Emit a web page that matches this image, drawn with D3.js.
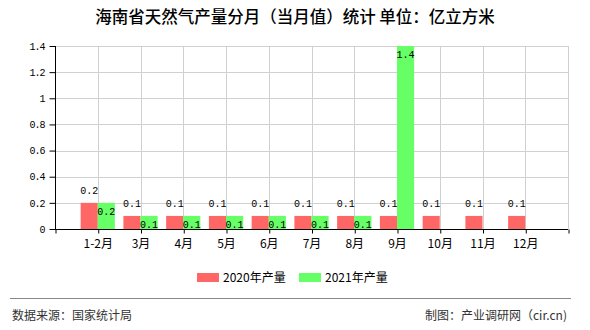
<!DOCTYPE html>
<html>
<head>
<meta charset="utf-8">
<script src="https://cdn.jsdelivr.net/npm/d3@7"></script>
<style>
  body { margin: 0; background: #fff; }
  svg { display: block; }
  .num { font-family: "Liberation Mono", "DejaVu Sans Mono", monospace; font-size: 10px; fill: #000; }
  .cjk { font-family: "Noto Sans CJK SC", "Noto Sans", sans-serif; }
</style>
</head>
<body>
<svg id="chart" width="590" height="330"></svg>
<script>
// data
var months = ["1-2月", "3月", "4月", "5月", "6月", "7月", "8月", "9月", "10月", "11月", "12月"];
var values2020 = [0.2, 0.1, 0.1, 0.1, 0.1, 0.1, 0.1, 0.1, 0.1, 0.1, 0.1];
var values2021 = [0.2, 0.1, 0.1, 0.1, 0.1, 0.1, 0.1, 1.4, null, null, null];
var yTicks = [0, 0.2, 0.4, 0.6, 0.8, 1, 1.2, 1.4];
var seriesNames = ["2020年产量", "2021年产量"];
var colors = ["#ff6666", "#66ff66"];

var svg = d3.select("#chart");
var plotLeft = 55, plotRight = 568, plotTop = 46, plotBottom = 229;

var x = d3.scaleLinear().domain([0, months.length + 1]).range([plotLeft, plotRight]);
var y = d3.scaleLinear().domain([0, 1.4]).range([plotBottom, plotTop]);
var barW = (x(1) - x(0)) * 0.4;

// title
svg.append("text")
  .attr("class", "cjk")
  .attr("x", 295).attr("y", 23)
  .attr("text-anchor", "middle")
  .style("font-size", "16.5px")
  .style("font-weight", "500")
  .text("海南省天然气产量分月（当月值）统计 单位：亿立方米");

// grid
var grid = svg.append("g").attr("stroke", "#d0d0d0").attr("stroke-width", 1);
yTicks.slice(1).forEach(function(t) {
  grid.append("line")
    .attr("x1", plotLeft).attr("x2", plotRight)
    .attr("y1", Math.round(y(t)) + 0.5).attr("y2", Math.round(y(t)) + 0.5);
});
d3.range(1, months.length + 2).forEach(function(i) {
  grid.append("line")
    .attr("x1", Math.round(x(i)) + 0.5).attr("x2", Math.round(x(i)) + 0.5)
    .attr("y1", plotTop).attr("y2", plotBottom);
});

// bars
var bars = svg.append("g");
months.forEach(function(m, i) {
  var cx = x(i + 1);
  if (values2020[i] != null) {
    bars.append("rect")
      .attr("x", cx - barW).attr("y", y(values2020[i]))
      .attr("width", barW).attr("height", plotBottom - y(values2020[i]))
      .attr("fill", colors[0]);
  }
  if (values2021[i] != null) {
    bars.append("rect")
      .attr("x", cx).attr("y", y(values2021[i]))
      .attr("width", barW).attr("height", plotBottom - y(values2021[i]))
      .attr("fill", colors[1]);
  }
});

// value labels
months.forEach(function(m, i) {
  var cx = x(i + 1);
  if (values2020[i] != null) {
    svg.append("text").attr("class", "num")
      .attr("x", cx - barW / 2).attr("y", y(values2020[i]) - 9)
      .attr("text-anchor", "middle")
      .text(values2020[i]);
  }
  if (values2021[i] != null) {
    svg.append("text").attr("class", "num")
      .attr("x", cx + barW / 2).attr("y", y(values2021[i]) + 12)
      .attr("text-anchor", "middle")
      .text(values2021[i]);
  }
});

// y axis
var yAxis = svg.append("g")
  .attr("transform", "translate(" + (plotLeft + 0.5) + ",0)")
  .call(d3.axisLeft(y).tickValues(yTicks).tickSize(6).tickPadding(5)
    .tickFormat(function(d) { return d; }));
yAxis.selectAll("text")
  .attr("class", "num")
  .style("letter-spacing", "-1px")
  .attr("font-family", null).attr("font-size", null);
yAxis.selectAll("line, path").attr("stroke", "#000");
yAxis.select(".domain").attr("d", "M0," + plotTop + "V" + plotBottom);

// x axis
var xAxis = svg.append("g")
  .attr("transform", "translate(0," + (plotBottom + 0.5) + ")")
  .call(d3.axisBottom(x).tickValues(d3.range(0, months.length + 2)).tickSize(4).tickPadding(6)
    .tickFormat(function(d) { return months[d - 1] || ""; }));
xAxis.selectAll("text")
  .attr("class", "cjk")
  .attr("font-family", null)
  .style("font-size", "12px")
  .attr("fill", "#000");
xAxis.selectAll("line, path").attr("stroke", "#000");
xAxis.select(".domain").attr("d", "M" + plotLeft + ",0H" + plotRight);
xAxis.selectAll(".tick line").attr("transform", "translate(0.5,0)");

// legend
var legendX = [197, 299];
seriesNames.forEach(function(name, i) {
  svg.append("rect")
    .attr("x", legendX[i]).attr("y", 273)
    .attr("width", 22).attr("height", 9)
    .attr("fill", colors[i]);
  svg.append("text")
    .attr("class", "cjk")
    .attr("x", legendX[i] + 26).attr("y", 282)
    .style("font-size", "12px")
    .text(name);
});

// footer
svg.append("line")
  .attr("x1", 10).attr("x2", 571)
  .attr("y1", 298.5).attr("y2", 298.5)
  .attr("stroke", "#888").attr("stroke-width", 1);
svg.append("text")
  .attr("class", "cjk")
  .attr("x", 12).attr("y", 320)
  .style("font-size", "12px").attr("fill", "#333")
  .text("数据来源：国家统计局");
svg.append("text")
  .attr("class", "cjk")
  .attr("x", 567).attr("y", 320)
  .attr("text-anchor", "end")
  .style("font-size", "12px").attr("fill", "#333")
  .text("制图：产业调研网（cir.cn)");
</script>
</body>
</html>
